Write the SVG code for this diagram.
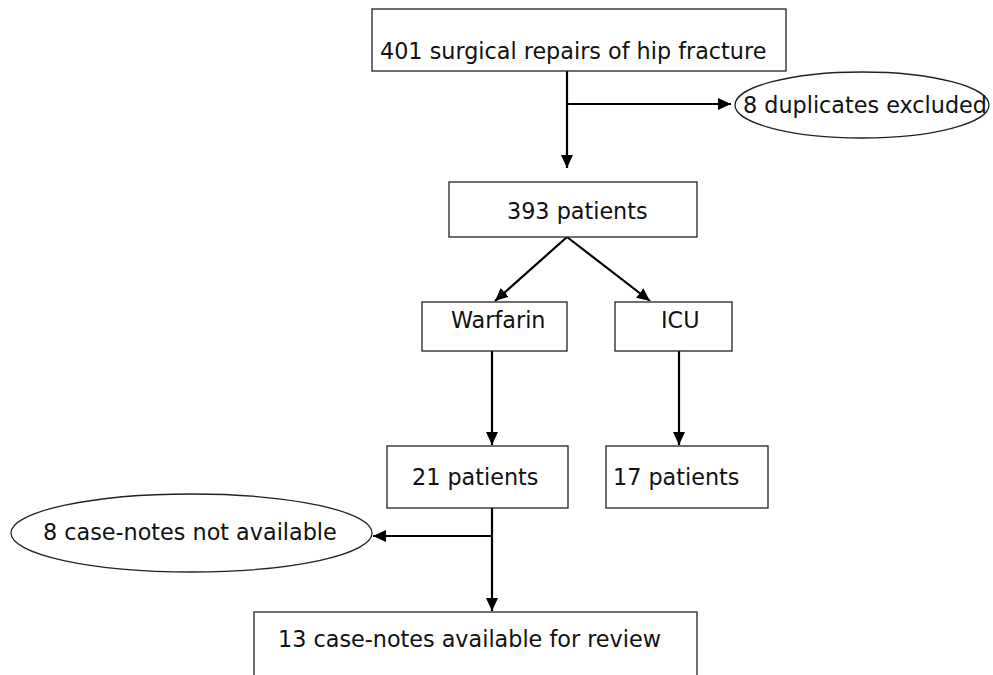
<svg xmlns="http://www.w3.org/2000/svg" width="993" height="675" viewBox="0 0 993 675">
<style>
.box{fill:#fff;stroke:#222;stroke-width:1.3}
.oval{fill:#fff;stroke:#222;stroke-width:1.3}
.t{font-family:"DejaVu Sans",Verdana,sans-serif;font-size:22.3px;fill:#111}
.c{stroke:#000;stroke-width:2.2;fill:none}
.ca{stroke:#000;stroke-width:2.2;fill:none;marker-end:url(#ah)}
</style>
<defs>
<marker id="ah" markerUnits="userSpaceOnUse" markerWidth="14" markerHeight="12" refX="13" refY="6" orient="auto">
<path d="M0,0 L13,6 L0,12 z" fill="#000"/>
</marker>
</defs>
<rect width="993" height="675" fill="#fff"/>
<g id="connectors">
<line class="c" x1="567" y1="71" x2="567" y2="104"/>
<line class="ca" x1="567" y1="104" x2="567" y2="168"/>
<line class="ca" x1="566" y1="104" x2="731" y2="104"/>
<line class="ca" x1="567" y1="237" x2="495" y2="301"/>
<line class="ca" x1="567" y1="237" x2="650" y2="301"/>
<line class="ca" x1="492" y1="351" x2="492" y2="445"/>
<line class="ca" x1="679" y1="351" x2="679" y2="445"/>
<line class="c" x1="492" y1="508" x2="492" y2="536"/>
<line class="ca" x1="492" y1="536" x2="492" y2="611"/>
<line class="ca" x1="493" y1="536" x2="373" y2="536"/>
</g>
<g id="n401">
<rect class="box" x="372" y="9" width="414" height="62"/>
<text class="t" x="380" y="59">401 surgical repairs of hip fracture</text>
</g>
<g id="dup">
<ellipse class="oval" cx="862" cy="105" rx="127" ry="33"/>
<text class="t" x="743" y="113">8 duplicates excluded</text>
</g>
<g id="n393">
<rect class="box" x="449" y="182" width="248" height="55"/>
<text class="t" x="507" y="219">393 patients</text>
</g>
<g id="warfarin">
<rect class="box" x="422" y="302" width="145" height="49"/>
<text class="t" x="451" y="328">Warfarin</text>
</g>
<g id="icu">
<rect class="box" x="615" y="302" width="117" height="49"/>
<text class="t" x="661" y="328">ICU</text>
</g>
<g id="n21">
<rect class="box" x="387" y="446" width="181" height="62"/>
<text class="t" x="412" y="485">21 patients</text>
</g>
<g id="n17">
<rect class="box" x="606" y="446" width="162" height="62"/>
<text class="t" x="613" y="485">17 patients</text>
</g>
<g id="notavail">
<ellipse class="oval" cx="191.5" cy="533" rx="180.5" ry="39"/>
<text class="t" x="43" y="540">8 case-notes not available</text>
</g>
<g id="n13">
<rect class="box" x="254" y="612" width="443" height="80"/>
<text class="t" x="278" y="647">13 case-notes available for review</text>
</g>
</svg>
